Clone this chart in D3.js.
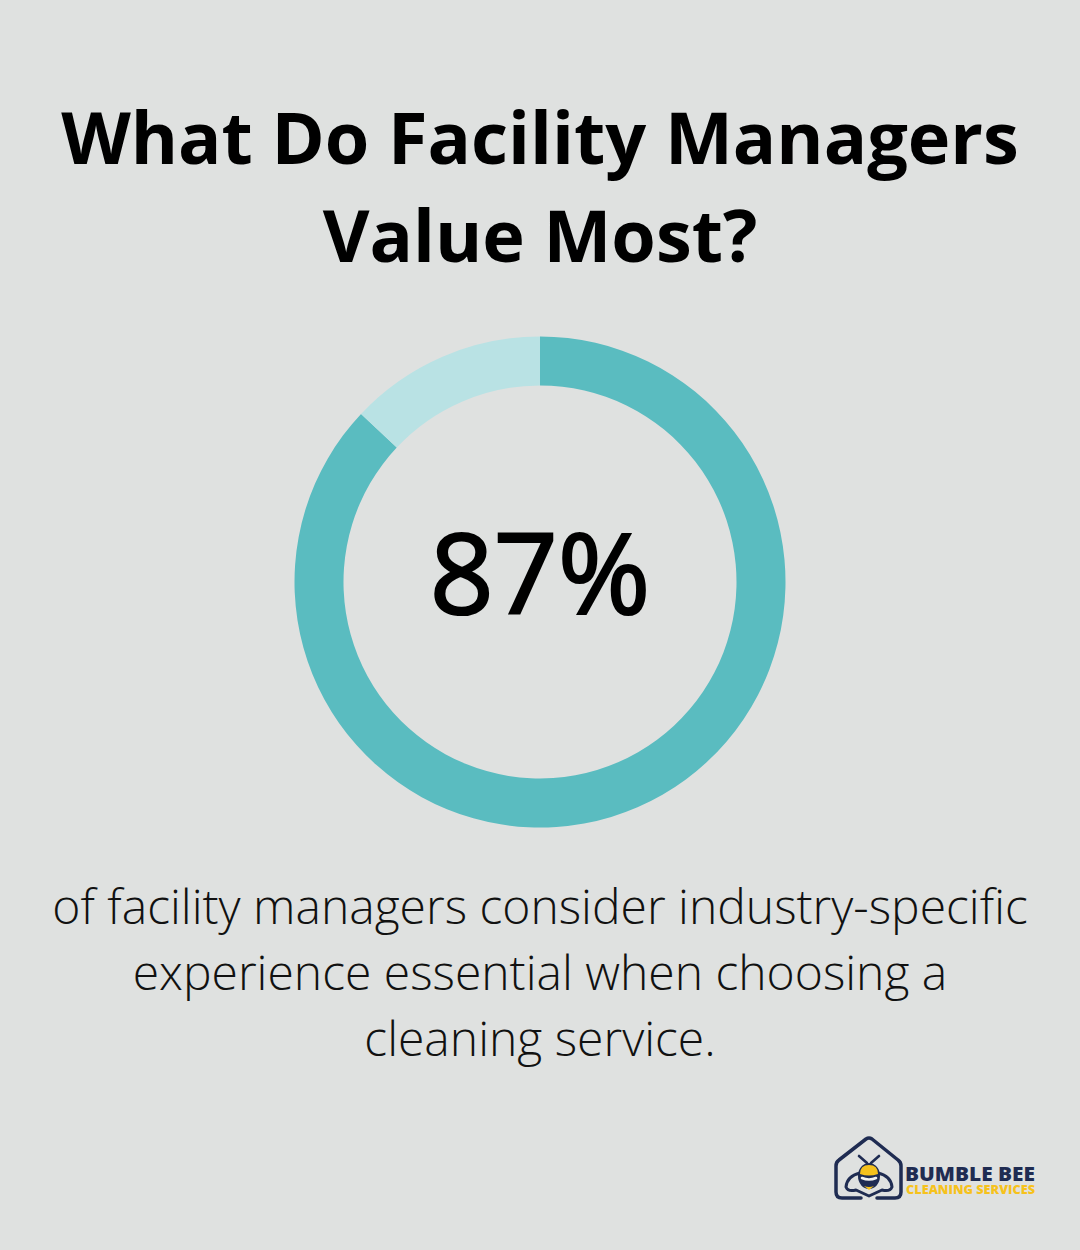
<!DOCTYPE html>
<html><head><meta charset="utf-8"><style>html,body{margin:0;padding:0;background:#dfe1e0}svg{display:block}</style>
<script src="https://cdnjs.cloudflare.com/ajax/libs/d3/7.8.5/d3.min.js"></script></head><body><div id="c"></div>
<script>
const titleLines=["What Do Facility Managers","Value Most?"];
const shareLabel="87%";
const shareValues=[87,13];
const shareColors=["#5abcc0","#b9e2e4"];
const captionLines=["of facility managers consider industry-specific","experience essential when choosing a","cleaning service."];
const brandLines=["BUMBLE BEE","CLEANING SERVICES"];
const W=1080,H=1250;
const svg=d3.select("#c").append("svg").attr("width",W).attr("height",H);
svg.append("rect").attr("width",W).attr("height",H).attr("fill","#dfe1e0");
const font="'Open Sans'";
svg.selectAll("text.t").data(titleLines).join("text").attr("class","t").attr("x",540).attr("y",(d,i)=>164+i*98)
 .attr("text-anchor","middle").attr("font-family",font).attr("font-weight",700).attr("font-size",72).attr("fill","#000").text(d=>d);
const pie=d3.pie().sort(null)(shareValues);
const arc=d3.arc().innerRadius(196.5).outerRadius(245.5);
svg.append("g").attr("transform","translate(540,582)").selectAll("path").data(pie).join("path").attr("d",arc).attr("fill",(d,i)=>shareColors[i]);
svg.append("text").attr("x",540).attr("y",614).attr("text-anchor","middle").attr("font-family",font).attr("font-weight",400).attr("font-size",112).attr("fill","#000").attr("stroke","#000").attr("stroke-width",2.2).text(shareLabel);
svg.selectAll("text.c").data(captionLines).join("text").attr("class","c").attr("x",540).attr("y",(d,i)=>924+i*66)
 .attr("text-anchor","middle").attr("font-family",font).attr("font-weight",300).attr("font-size",48).attr("fill","#111").text(d=>d);
// logo
const navy="#1f2c52",gold="#f6c21c";
const logo=svg.append("g").attr("fill","none").attr("stroke",navy).attr("stroke-linecap","round").attr("stroke-linejoin","round");
logo.append("path").attr("stroke-width",3.5).attr("d","M861 1198 L842 1198 Q836 1198 836 1192 L836 1166 Q836 1162 839 1160 L866 1139 Q869 1137 872 1139 L898 1160 Q901 1162 901 1166 L901 1192 Q901 1198 895 1198 L877 1198");
logo.append("path").attr("stroke-width",3).attr("d","M860 1173 Q847 1176 846 1187 Q848 1192 856 1190 L869 1196 L882 1190 Q890 1192 892 1187 Q891 1176 878 1173");
logo.append("path").attr("stroke-width",2.6).attr("d","M867 1163 L859 1156 M871 1163 L879 1156");
logo.append("ellipse").attr("cx",869).attr("cy",1176).attr("rx",11).attr("ry",13).attr("fill",navy).attr("stroke","none");
logo.append("path").attr("fill",gold).attr("stroke","none").attr("d","M860 1174 Q860 1165 869 1165 Q878 1165 878 1174 Q869 1177 860 1174 Z");
logo.append("path").attr("stroke","#f2f2f2").attr("stroke-width",2.6).attr("d","M862 1178 Q869 1181 876 1178");
logo.append("path").attr("fill",gold).attr("stroke","none").attr("d","M864 1186 Q869 1188 874 1186 L869 1190 Z");
svg.append("text").attr("x",905).attr("y",1181).attr("font-family",font).attr("font-weight",800).attr("font-size",20).attr("textLength",130).attr("lengthAdjust","spacingAndGlyphs").attr("fill",navy).text(brandLines[0]);
svg.append("text").attr("x",906).attr("y",1194).attr("font-family",font).attr("font-weight",800).attr("font-size",12.5).attr("textLength",129).attr("lengthAdjust","spacingAndGlyphs").attr("fill",gold).text(brandLines[1]);
</script></body></html>
